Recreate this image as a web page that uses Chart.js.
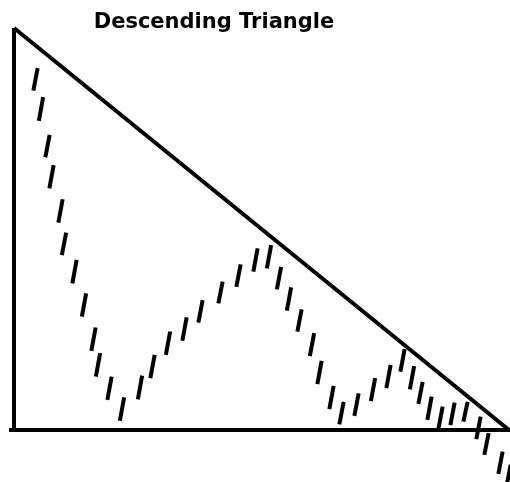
<!DOCTYPE html>
<html>
<head>
<meta charset="utf-8">
<title>Descending Triangle</title>
<script src="https://cdn.jsdelivr.net/npm/chart.js@4.4.1/dist/chart.umd.min.js"></script>
<style>
  html, body { margin: 0; padding: 0; background: #fff; }
  #chart { display: block; }
</style>
</head>
<body>
<canvas id="chart" width="510" height="482"></canvas>
<script>
// Titre
const titleText = "Descending Triangle";

// Barres de prix (position dans le temps, bas, haut)
const barX = [4.3, 5.4, 6.7, 7.5, 9.3, 10.0, 12.1, 14.0, 15.9, 16.8,
              19.1, 21.6, 25.2, 27.7, 30.8, 34.1, 37.3, 41.3, 44.9, 48.3,
              51.0, 53.0, 55.0, 57.1, 59.6, 61.1, 63.5, 65.5, 68.5, 71.8,
              74.9, 77.7, 79.6, 81.3, 83.1, 85.3, 87.7, 90.3, 92.9, 94.5,
              97.3, 98.9];
const barLow = [84.4, 76.9, 67.8, 60.1, 51.6, 43.5, 36.5, 28.2, 19.7, 13.3,
                7.5, 2.3, 7.6, 12.9, 18.7, 22.2, 26.7, 31.5, 35.6, 39.4,
                40.2, 35.0, 29.7, 24.5, 18.4, 11.4, 5.2, 1.4, 3.5, 7.2,
                10.4, 14.5, 10.1, 6.5, 2.5, 0.2, 1.2, 2.1, -2.3, -6.2,
                -10.9, -14.2];
const barHigh = [90.0, 82.8, 73.4, 65.9, 57.4, 49.1, 42.3, 34.0, 25.5, 19.1,
                 13.3, 8.1, 13.5, 18.7, 24.5, 28.0, 32.3, 36.9, 41.2, 45.2,
                 46.0, 40.6, 35.5, 30.0, 24.1, 17.2, 11.0, 7.0, 9.1, 12.9,
                 16.2, 20.1, 15.9, 12.0, 8.3, 5.8, 6.8, 7.0, 3.3, -0.8,
                 -5.4, -8.7];

// Lignes du triangle
const trendX = [0, 99];      // ligne de tendance descendante
const trendY = [100, 0];
const sideX = [0, 0];        // cote vertical
const sideY = [0, 100];
const supportX = [-1, 99.2]; // support horizontal
const supportY = [0, 0];

const slant = 0.43; // inclinaison des barres

function pts(xs, ys) {
  return xs.map((x, i) => ({x: x, y: ys[i]}));
}

const barPts = [];
barX.forEach((x, i) => {
  barPts.push({x: x - slant, y: barLow[i]});
  barPts.push({x: x + slant, y: barHigh[i]});
  barPts.push({x: x, y: null});
});

const lineStyle = {
  showLine: true,
  borderColor: "#000",
  borderWidth: 4,
  pointRadius: 0,
  clip: false,
  spanGaps: false
};

const titlePlugin = {
  id: "titreDessin",
  afterDraw(chart) {
    const ctx = chart.ctx;
    ctx.save();
    ctx.font = "bold 21px 'DejaVu Sans'";
    ctx.fillStyle = "#000";
    ctx.textAlign = "center";
    ctx.textBaseline = "alphabetic";
    ctx.fillText(titleText, 214, 28);
    ctx.restore();
  }
};

new Chart(document.getElementById("chart"), {
  type: "scatter",
  data: {
    datasets: [
      Object.assign({label: "barres", data: barPts, borderWidth: 4}, lineStyle),
      Object.assign({label: "tendance", data: pts(trendX, trendY)}, lineStyle),
      Object.assign({label: "cote", data: pts(sideX, sideY)}, lineStyle),
      Object.assign({label: "support", data: pts(supportX, supportY)}, lineStyle)
    ]
  },
  options: {
    responsive: false,
    animation: false,
    devicePixelRatio: 1,
    layout: { padding: { left: 14, right: 1, top: 28, bottom: 52 } },
    plugins: { legend: { display: false }, tooltip: { enabled: false }, title: { display: false } },
    scales: {
      x: { type: "linear", min: 0, max: 99, display: false },
      y: { type: "linear", min: 0, max: 100, display: false }
    }
  },
  plugins: [titlePlugin]
});
</script>
</body>
</html>
